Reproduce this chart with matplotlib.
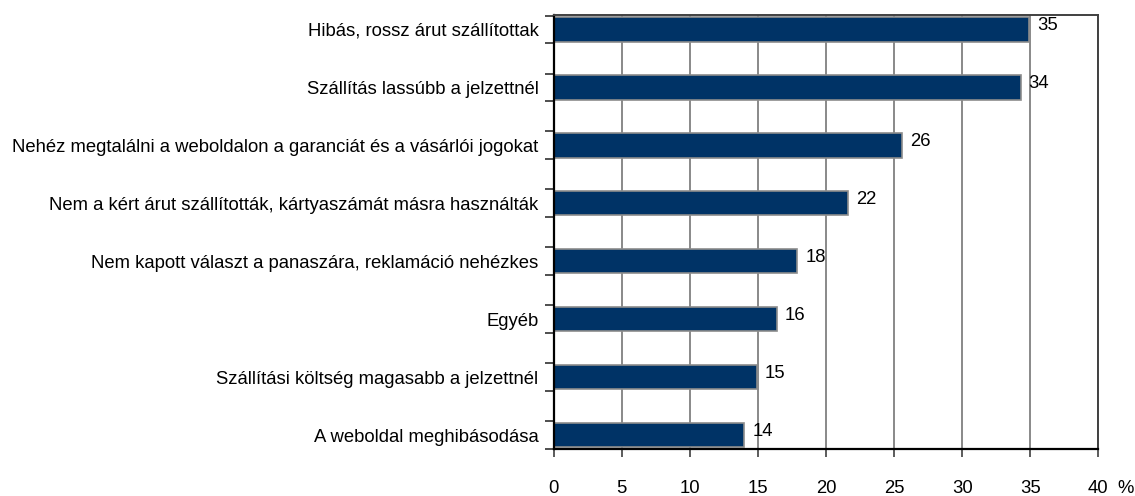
import matplotlib
matplotlib.use("Agg")
import matplotlib.pyplot as plt
from matplotlib import font_manager
import matplotlib.transforms as mtransforms

# Data
categories = [
    "Hibás, rossz árut szállítottak",
    "Szállítás lassúbb a jelzettnél",
    "Nehéz megtalálni a weboldalon a garanciát és a vásárlói jogokat",
    "Nem a kért árut szállították, kártyaszámát másra használták",
    "Nem kapott választ a panaszára, reklamáció nehézkes",
    "Egyéb",
    "Szállítási költség magasabb a jelzettnél",
    "A weboldal meghibásodása",
]
values = [34.9, 34.3, 25.6, 21.6, 17.9, 16.4, 14.9, 14.0]
value_labels = ["35", "34", "26", "22", "18", "16", "15", "14"]
x_ticks = [0, 5, 10, 15, 20, 25, 30, 35, 40]

available = {f.name for f in font_manager.fontManager.ttflist}
font = "Liberation Sans" if "Liberation Sans" in available else "DejaVu Sans"
plt.rcParams["font.family"] = font
fs = 13.3

fig = plt.figure(figsize=(11.35, 4.96), dpi=100)
ax = fig.add_axes([0.4878, 0.0948, 0.9677 - 0.4878, 0.9698 - 0.0948])

bar_h = 0.42
pos = list(range(len(categories)))
ax.barh(pos, values, height=bar_h, color="#003366", edgecolor="#8c8c8c",
        linewidth=1.2, zorder=3)

ax.set_xlim(0, 40)
ax.set_ylim(len(categories) - 1 + bar_h / 2 + 0.012, -bar_h / 2 - 0.04)

# vertical grid lines
ax.set_xticks(x_ticks)
ax.set_xticklabels([str(t) for t in x_ticks], fontsize=fs)
ax.xaxis.grid(True, color="#808080", linewidth=1.3, zorder=0)
ax.tick_params(axis="x", direction="out", length=6, width=1.2, color="#404040", pad=16)

# category labels at bar centres, tick marks at bar edges
ax.set_yticks(pos)
ax.set_yticklabels(categories, fontsize=fs)
ax.tick_params(axis="y", which="major", length=0, pad=11)
edges = []
for p in pos:
    edges += [p - bar_h / 2 - 0.03, p + bar_h / 2 + 0.03]
ax.set_yticks(edges, minor=True)
ax.tick_params(axis="y", which="minor", direction="out", length=6.5, width=1.2, color="#303030")

for s in ["left", "bottom"]:
    ax.spines[s].set_color("#000000")
    ax.spines[s].set_linewidth(1.6)
for s in ["top", "right"]:
    ax.spines[s].set_color("#404040")
    ax.spines[s].set_linewidth(1.4)
for sp in ax.spines.values():
    sp.set_zorder(4)

# value labels
offset = mtransforms.offset_copy(ax.transData, fig=fig, x=8, y=4, units="dots")
for p, v, lab in zip(pos, values, value_labels):
    ax.text(v, p, lab, transform=offset, ha="left", va="center", fontsize=fs)

fig.text(0.9915, 0.016, "%", ha="center", va="center", fontsize=fs)

fig.savefig("out.png", dpi=100)
